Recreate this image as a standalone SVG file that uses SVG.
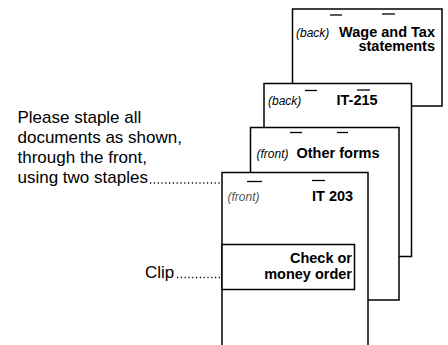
<svg xmlns="http://www.w3.org/2000/svg" width="448" height="345" viewBox="0 0 448 345">
<style>
.sheet{fill:#fff;stroke:#000;stroke-width:1.5}
.dash{stroke:#000;stroke-width:1.3}
.lbl{font-family:"Liberation Sans",Arial,sans-serif;font-size:12px;font-style:italic;fill:#000}
.ttl{font-family:"Liberation Sans",Arial,sans-serif;font-size:14.5px;font-weight:bold;fill:#000}
.note{font-family:"Liberation Sans",Arial,sans-serif;font-size:17px;fill:#000}
.lead{stroke:#000;stroke-width:1.3;stroke-dasharray:1.2 2.6;fill:none}
</style>
<rect width="448" height="345" fill="#fff"/>
<g id="sheet-wage">
<rect class="sheet" x="292.5" y="9" width="149.5" height="97"/>
<line class="dash" x1="330" y1="15" x2="342" y2="15"/>
<line class="dash" x1="382" y1="14" x2="395" y2="14"/>
<text class="lbl" x="296" y="36.5">(back)</text>
<text class="ttl" x="435" y="36.5" text-anchor="end">Wage and Tax</text>
<text class="ttl" x="435" y="51" text-anchor="end">statements</text>
</g>
<g id="sheet-it215">
<rect class="sheet" x="264" y="83.5" width="147.5" height="173"/>
<line class="dash" x1="305" y1="90.5" x2="317" y2="90.5"/>
<line class="dash" x1="357" y1="90" x2="370" y2="90"/>
<text class="lbl" x="268" y="105">(back)</text>
<text class="ttl" x="336.5" y="105">IT-215</text>
</g>
<g id="sheet-other">
<rect class="sheet" x="250.5" y="127.5" width="148.5" height="172.5"/>
<line class="dash" x1="290" y1="132.5" x2="302" y2="132.5"/>
<line class="dash" x1="337" y1="132.5" x2="348" y2="132.5"/>
<text class="lbl" x="256.5" y="158">(front)</text>
<text class="ttl" x="296.5" y="158">Other forms</text>
</g>
<g id="sheet-it203">
<rect class="sheet" x="222" y="172.5" width="146" height="185"/>
<line class="dash" x1="247" y1="181.5" x2="262" y2="181.5"/>
<line class="dash" x1="312" y1="180.5" x2="325" y2="180.5"/>
<text class="lbl" x="227.5" y="201" fill="#555" style="fill:#555">(front)</text>
<text class="ttl" x="312" y="201">IT 203</text>
</g>
<g id="check">
<rect class="sheet" x="222" y="244.5" width="132.5" height="45"/>
<text class="ttl" x="352" y="263" text-anchor="end">Check or</text>
<text class="ttl" x="352" y="278.5" text-anchor="end">money order</text>
</g>
<g id="note-staple">
<text class="note" x="17.5" y="123">Please staple all</text>
<text class="note" x="17.5" y="143">documents as shown,</text>
<text class="note" x="17.5" y="163">through the front,</text>
<text class="note" x="17.5" y="183">using two staples</text>
</g>
<g id="note-clip">
<text class="note" x="145" y="278">Clip</text>
</g>
<g id="connectors">
<line class="lead" x1="150" y1="183" x2="221" y2="183"/>
<line class="lead" x1="177" y1="277.5" x2="221" y2="277.5"/>
</g>
</svg>
